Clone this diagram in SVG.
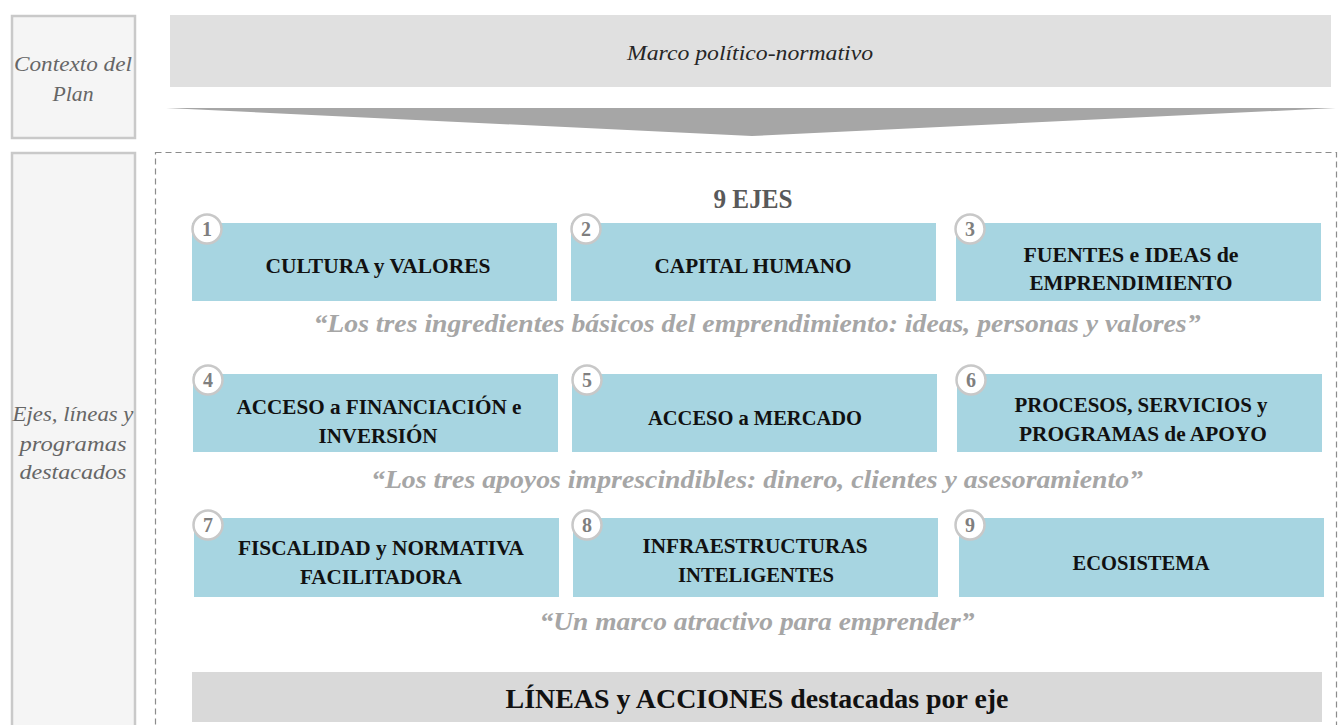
<svg xmlns="http://www.w3.org/2000/svg" width="1341" height="725" viewBox="0 0 1341 725">
<style>
text{font-family:"Liberation Serif","DejaVu Serif",serif}
.side{fill:#f5f5f5;stroke:#c9c9c9;stroke-width:2.5}
.sidet{font-style:italic;font-size:21px;fill:#666666;text-anchor:middle}
.eje{fill:#a7d5e1}
.ejet{font-weight:bold;font-size:22px;fill:#111111;text-anchor:middle}
.num{fill:#ffffff;stroke:#c8c8c8;stroke-width:2.5}
.numt{font-weight:bold;font-size:20px;fill:#7f7f7f;text-anchor:middle}
.quote{font-weight:bold;font-style:italic;font-size:26px;fill:#a6a6a6;text-anchor:middle}
</style>
<rect width="1341" height="725" fill="#ffffff"/>

<g id="contexto">
<rect class="side" x="12" y="16" width="123" height="122"/>
<text class="sidet" x="73" y="71" textLength="118" lengthAdjust="spacingAndGlyphs">Contexto del</text>
<text class="sidet" x="73" y="101" textLength="41" lengthAdjust="spacingAndGlyphs">Plan</text>
</g>

<g id="ejes-lineas">
<rect class="side" x="12" y="153" width="123" height="620"/>
<text class="sidet" x="73" y="421" textLength="121" lengthAdjust="spacingAndGlyphs">Ejes, líneas y</text>
<text class="sidet" x="73" y="451" textLength="107" lengthAdjust="spacingAndGlyphs">programas</text>
<text class="sidet" x="73" y="479" textLength="107" lengthAdjust="spacingAndGlyphs">destacados</text>
</g>

<g id="marco">
<rect x="170" y="15" width="1161" height="72" fill="#e0e0e0"/>
<text x="750" y="60" font-style="italic" font-size="21" fill="#262626" text-anchor="middle" textLength="246" lengthAdjust="spacingAndGlyphs">Marco político-normativo</text>
</g>

<g id="connectors">
<polygon points="166,108 1336,108 752,136" fill="#a6a6a6"/>
</g>

<g id="marco-ejes">
<rect x="155.5" y="152.5" width="1181" height="620" fill="none" stroke="#8c8c8c" stroke-width="1.2" stroke-dasharray="6 4"/>
<text x="753" y="208" font-weight="bold" font-size="27" fill="#595959" text-anchor="middle" textLength="79" lengthAdjust="spacingAndGlyphs">9 EJES</text>
</g>

<g id="eje1">
<rect class="eje" x="192" y="223" width="365" height="78"/>
<text class="ejet" x="378" y="273" textLength="225" lengthAdjust="spacingAndGlyphs">CULTURA y VALORES</text>
<circle class="num" cx="207" cy="229" r="14.5"/><text class="numt" x="207" y="236">1</text>
</g>
<g id="eje2">
<rect class="eje" x="571" y="223" width="365" height="78"/>
<text class="ejet" x="753" y="273" textLength="197" lengthAdjust="spacingAndGlyphs">CAPITAL HUMANO</text>
<circle class="num" cx="586" cy="229" r="14.5"/><text class="numt" x="586" y="236">2</text>
</g>
<g id="eje3">
<rect class="eje" x="956" y="223" width="365" height="78"/>
<text class="ejet" x="1131" y="262" textLength="215" lengthAdjust="spacingAndGlyphs">FUENTES e IDEAS de</text>
<text class="ejet" x="1131" y="290" textLength="203" lengthAdjust="spacingAndGlyphs">EMPRENDIMIENTO</text>
<circle class="num" cx="970" cy="229" r="14.5"/><text class="numt" x="970" y="236">3</text>
</g>

<text class="quote" x="757" y="332" textLength="887" lengthAdjust="spacingAndGlyphs">“Los tres ingredientes básicos del emprendimiento: ideas, personas y valores”</text>

<g id="eje4">
<rect class="eje" x="193" y="374" width="365" height="78"/>
<text class="ejet" x="379" y="414" textLength="285" lengthAdjust="spacingAndGlyphs">ACCESO a FINANCIACIÓN e</text>
<text class="ejet" x="378" y="443" textLength="119" lengthAdjust="spacingAndGlyphs">INVERSIÓN</text>
<circle class="num" cx="208" cy="380" r="14.5"/><text class="numt" x="208" y="387">4</text>
</g>
<g id="eje5">
<rect class="eje" x="572" y="374" width="365" height="78"/>
<text class="ejet" x="755" y="425" textLength="214" lengthAdjust="spacingAndGlyphs">ACCESO a MERCADO</text>
<circle class="num" cx="587" cy="380" r="14.5"/><text class="numt" x="587" y="387">5</text>
</g>
<g id="eje6">
<rect class="eje" x="957" y="374" width="365" height="78"/>
<text class="ejet" x="1141" y="412" textLength="253" lengthAdjust="spacingAndGlyphs">PROCESOS, SERVICIOS y</text>
<text class="ejet" x="1143" y="441" textLength="248" lengthAdjust="spacingAndGlyphs">PROGRAMAS de APOYO</text>
<circle class="num" cx="971" cy="380" r="14.5"/><text class="numt" x="971" y="387">6</text>
</g>

<text class="quote" x="757" y="488" textLength="772" lengthAdjust="spacingAndGlyphs">“Los tres apoyos imprescindibles: dinero, clientes y asesoramiento”</text>

<g id="eje7">
<rect class="eje" x="194" y="518" width="365" height="79"/>
<text class="ejet" x="381" y="555" textLength="286" lengthAdjust="spacingAndGlyphs">FISCALIDAD y NORMATIVA</text>
<text class="ejet" x="381" y="584" textLength="162" lengthAdjust="spacingAndGlyphs">FACILITADORA</text>
<circle class="num" cx="208" cy="525" r="14.5"/><text class="numt" x="208" y="532">7</text>
</g>
<g id="eje8">
<rect class="eje" x="573" y="518" width="365" height="79"/>
<text class="ejet" x="755" y="553" textLength="225" lengthAdjust="spacingAndGlyphs">INFRAESTRUCTURAS</text>
<text class="ejet" x="756" y="582" textLength="156" lengthAdjust="spacingAndGlyphs">INTELIGENTES</text>
<circle class="num" cx="587" cy="525" r="14.5"/><text class="numt" x="587" y="532">8</text>
</g>
<g id="eje9">
<rect class="eje" x="959" y="518" width="365" height="79"/>
<text class="ejet" x="1141" y="570" textLength="137" lengthAdjust="spacingAndGlyphs">ECOSISTEMA</text>
<circle class="num" cx="970" cy="525" r="14.5"/><text class="numt" x="970" y="532">9</text>
</g>

<text class="quote" x="757" y="630" textLength="435" lengthAdjust="spacingAndGlyphs">“Un marco atractivo para emprender”</text>

<g id="lineas">
<rect x="192" y="672" width="1130" height="50" fill="#d9d9d9"/>
<text x="757" y="708" font-weight="bold" font-size="28" fill="#111111" text-anchor="middle" textLength="503" lengthAdjust="spacingAndGlyphs">LÍNEAS y ACCIONES destacadas por eje</text>
</g>
</svg>
